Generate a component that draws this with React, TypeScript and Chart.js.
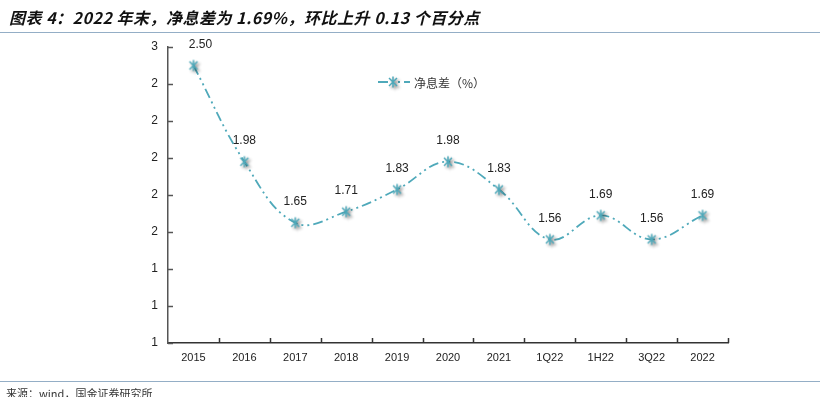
import React, { useEffect, useRef } from 'react';
import { Chart, registerables } from 'chart.js';
Chart.register(...registerables);

const categories = ['2015', '2016', '2017', '2018', '2019', '2020', '2021', '1Q22', '1H22', '3Q22', '2022'];
const nimValues = [2.5, 1.98, 1.65, 1.71, 1.83, 1.98, 1.83, 1.56, 1.69, 1.56, 1.69];
const yMin = 1.0;
const yMax = 2.6;
const yStep = 0.2;
const seriesName = '净息差（%）';
const titleText = '图表 4：2022 年末，净息差为 1.69%，环比上升 0.13 个百分点';
const sourceText = '来源：wind，国金证券研究所';

const TEAL = '#4FA9BA';
const DASH = [10, 4, 2, 4, 2, 4];

function makeMarker(): HTMLCanvasElement {
  const c = document.createElement('canvas');
  c.width = 22;
  c.height = 22;
  const g = c.getContext('2d')!;
  g.translate(11, 11);
  g.shadowColor = 'rgba(0,0,0,0.45)';
  g.shadowBlur = 3;
  g.shadowOffsetX = 2;
  g.shadowOffsetY = 2;
  g.strokeStyle = TEAL;
  g.lineWidth = 1.5;
  g.beginPath();
  g.moveTo(-4, -4); g.lineTo(4, 4);
  g.moveTo(4, -4); g.lineTo(-4, 4);
  g.moveTo(0, -5.5); g.lineTo(0, 5.5);
  g.stroke();
  return c;
}

export default function App() {
  const ref = useRef<HTMLCanvasElement>(null);
  useEffect(() => {
    document.body.style.margin = '0';
    const marker = makeMarker();
    const deco = {
      id: 'deco',
      afterDraw(chart: any) {
        const ctx = chart.ctx;
        const { left, right, bottom } = chart.chartArea;
        ctx.save();
        const ys = chart.scales.y;
        ctx.strokeStyle = '#555';
        ctx.lineWidth = 1.5;
        ys.ticks.forEach((t: any) => {
          const y = Math.round(ys.getPixelForValue(t.value)) + 0.5;
          ctx.beginPath();
          ctx.moveTo(left, y);
          ctx.lineTo(left + 5, y);
          ctx.stroke();
        });
        const n = categories.length;
        const w = (right - left) / n;
        ctx.strokeStyle = '#333';
        for (let i = 1; i <= n; i++) {
          const x = Math.round(left + i * w) + 0.5;
          ctx.beginPath();
          ctx.moveTo(x, bottom);
          ctx.lineTo(x, bottom - 5);
          ctx.stroke();
        }
        ctx.restore();
      },
      afterDatasetsDraw(chart: any) {
        const ctx = chart.ctx;
        const meta = chart.getDatasetMeta(0);
        ctx.save();
        ctx.fillStyle = '#222';
        ctx.font = '12px "Liberation Sans", Arial, sans-serif';
        ctx.textAlign = 'center';
        ctx.textBaseline = 'middle';
        meta.data.forEach((p: any, i: number) => {
          const dx = i === 0 ? 7 : 0;
          ctx.fillText(nimValues[i].toFixed(2), p.x + dx, p.y - 21);
        });
        const ly = 82;
        ctx.strokeStyle = TEAL;
        ctx.lineWidth = 2;
        ctx.setLineDash(DASH);
        ctx.beginPath();
        ctx.moveTo(378, ly);
        ctx.lineTo(410, ly);
        ctx.stroke();
        ctx.setLineDash([]);
        ctx.drawImage(marker, 393 - 11, ly - 11);
        ctx.fillStyle = '#333';
        ctx.font = '12px "Noto Sans CJK SC", sans-serif';
        ctx.textAlign = 'left';
        ctx.fillText(seriesName, 414, ly + 1);
        ctx.restore();
      },
    };
    const chart = new Chart(ref.current!, {
      type: 'line',
      data: {
        labels: categories,
        datasets: [
          {
            label: seriesName,
            data: nimValues,
            borderColor: TEAL,
            borderWidth: 1.8,
            borderDash: DASH,
            tension: 0.4,
            pointStyle: marker as any,
            pointRadius: 6,
            pointHoverRadius: 6,
            fill: false,
          },
        ],
      },
      options: {
        animation: false,
        responsive: false,
        maintainAspectRatio: false,
        events: [],
        layout: { padding: { top: 47, right: 92, bottom: 0, left: 0 } },
        plugins: { legend: { display: false }, tooltip: { enabled: false } },
        scales: {
          x: {
            type: 'category',
            offset: true,
            grid: { display: false, drawTicks: false },
            border: { display: true, color: '#333', width: 1.5 },
            ticks: {
              color: '#222',
              font: { family: '"Liberation Sans", Arial, sans-serif', size: 11 },
              padding: 8,
              maxRotation: 0,
              autoSkip: false,
            },
            afterFit(s: any) { s.height = 54; },
          },
          y: {
            min: yMin,
            max: yMax,
            grid: { display: false, drawTicks: false },
            border: { display: true, color: '#555', width: 1.5 },
            ticks: {
              stepSize: yStep,
              color: '#222',
              font: { family: '"Liberation Sans", Arial, sans-serif', size: 12 },
              padding: 10,
              callback: (v: any) => String(Math.round(Number(v))),
            },
            afterFit(s: any) { s.width = 168; },
          },
        },
      },
      plugins: [deco],
    });
    return () => chart.destroy();
  }, []);

  return (
    <div style={{ position: 'absolute', left: 0, top: 0, width: 820, height: 397, overflow: 'hidden', background: '#fff' }}>
      <canvas ref={ref} width={820} height={397} style={{ position: 'absolute', left: 0, top: 0 }} />
      <div
        style={{
          position: 'absolute', left: 9, top: 6, fontFamily: '"Noto Sans CJK SC", sans-serif',
          fontSize: 16, letterSpacing: '0.5px', fontWeight: 'bold', fontStyle: 'italic', color: '#111',
          whiteSpace: 'nowrap', lineHeight: '22px',
        }}
      >
        {titleText}
      </div>
      <div style={{ position: 'absolute', left: 0, top: 32, width: 820, height: 0, borderTop: '1.5px solid #94AEC6' }} />
      <div style={{ position: 'absolute', left: 0, top: 381, width: 820, height: 0, borderTop: '1.5px solid #94AEC6' }} />
      <div
        style={{
          position: 'absolute', left: 6, top: 386, fontFamily: '"Noto Sans CJK SC", sans-serif',
          fontSize: 11, color: '#333', whiteSpace: 'nowrap', lineHeight: '14px',
        }}
      >
        {sourceText}
      </div>
    </div>
  );
}
